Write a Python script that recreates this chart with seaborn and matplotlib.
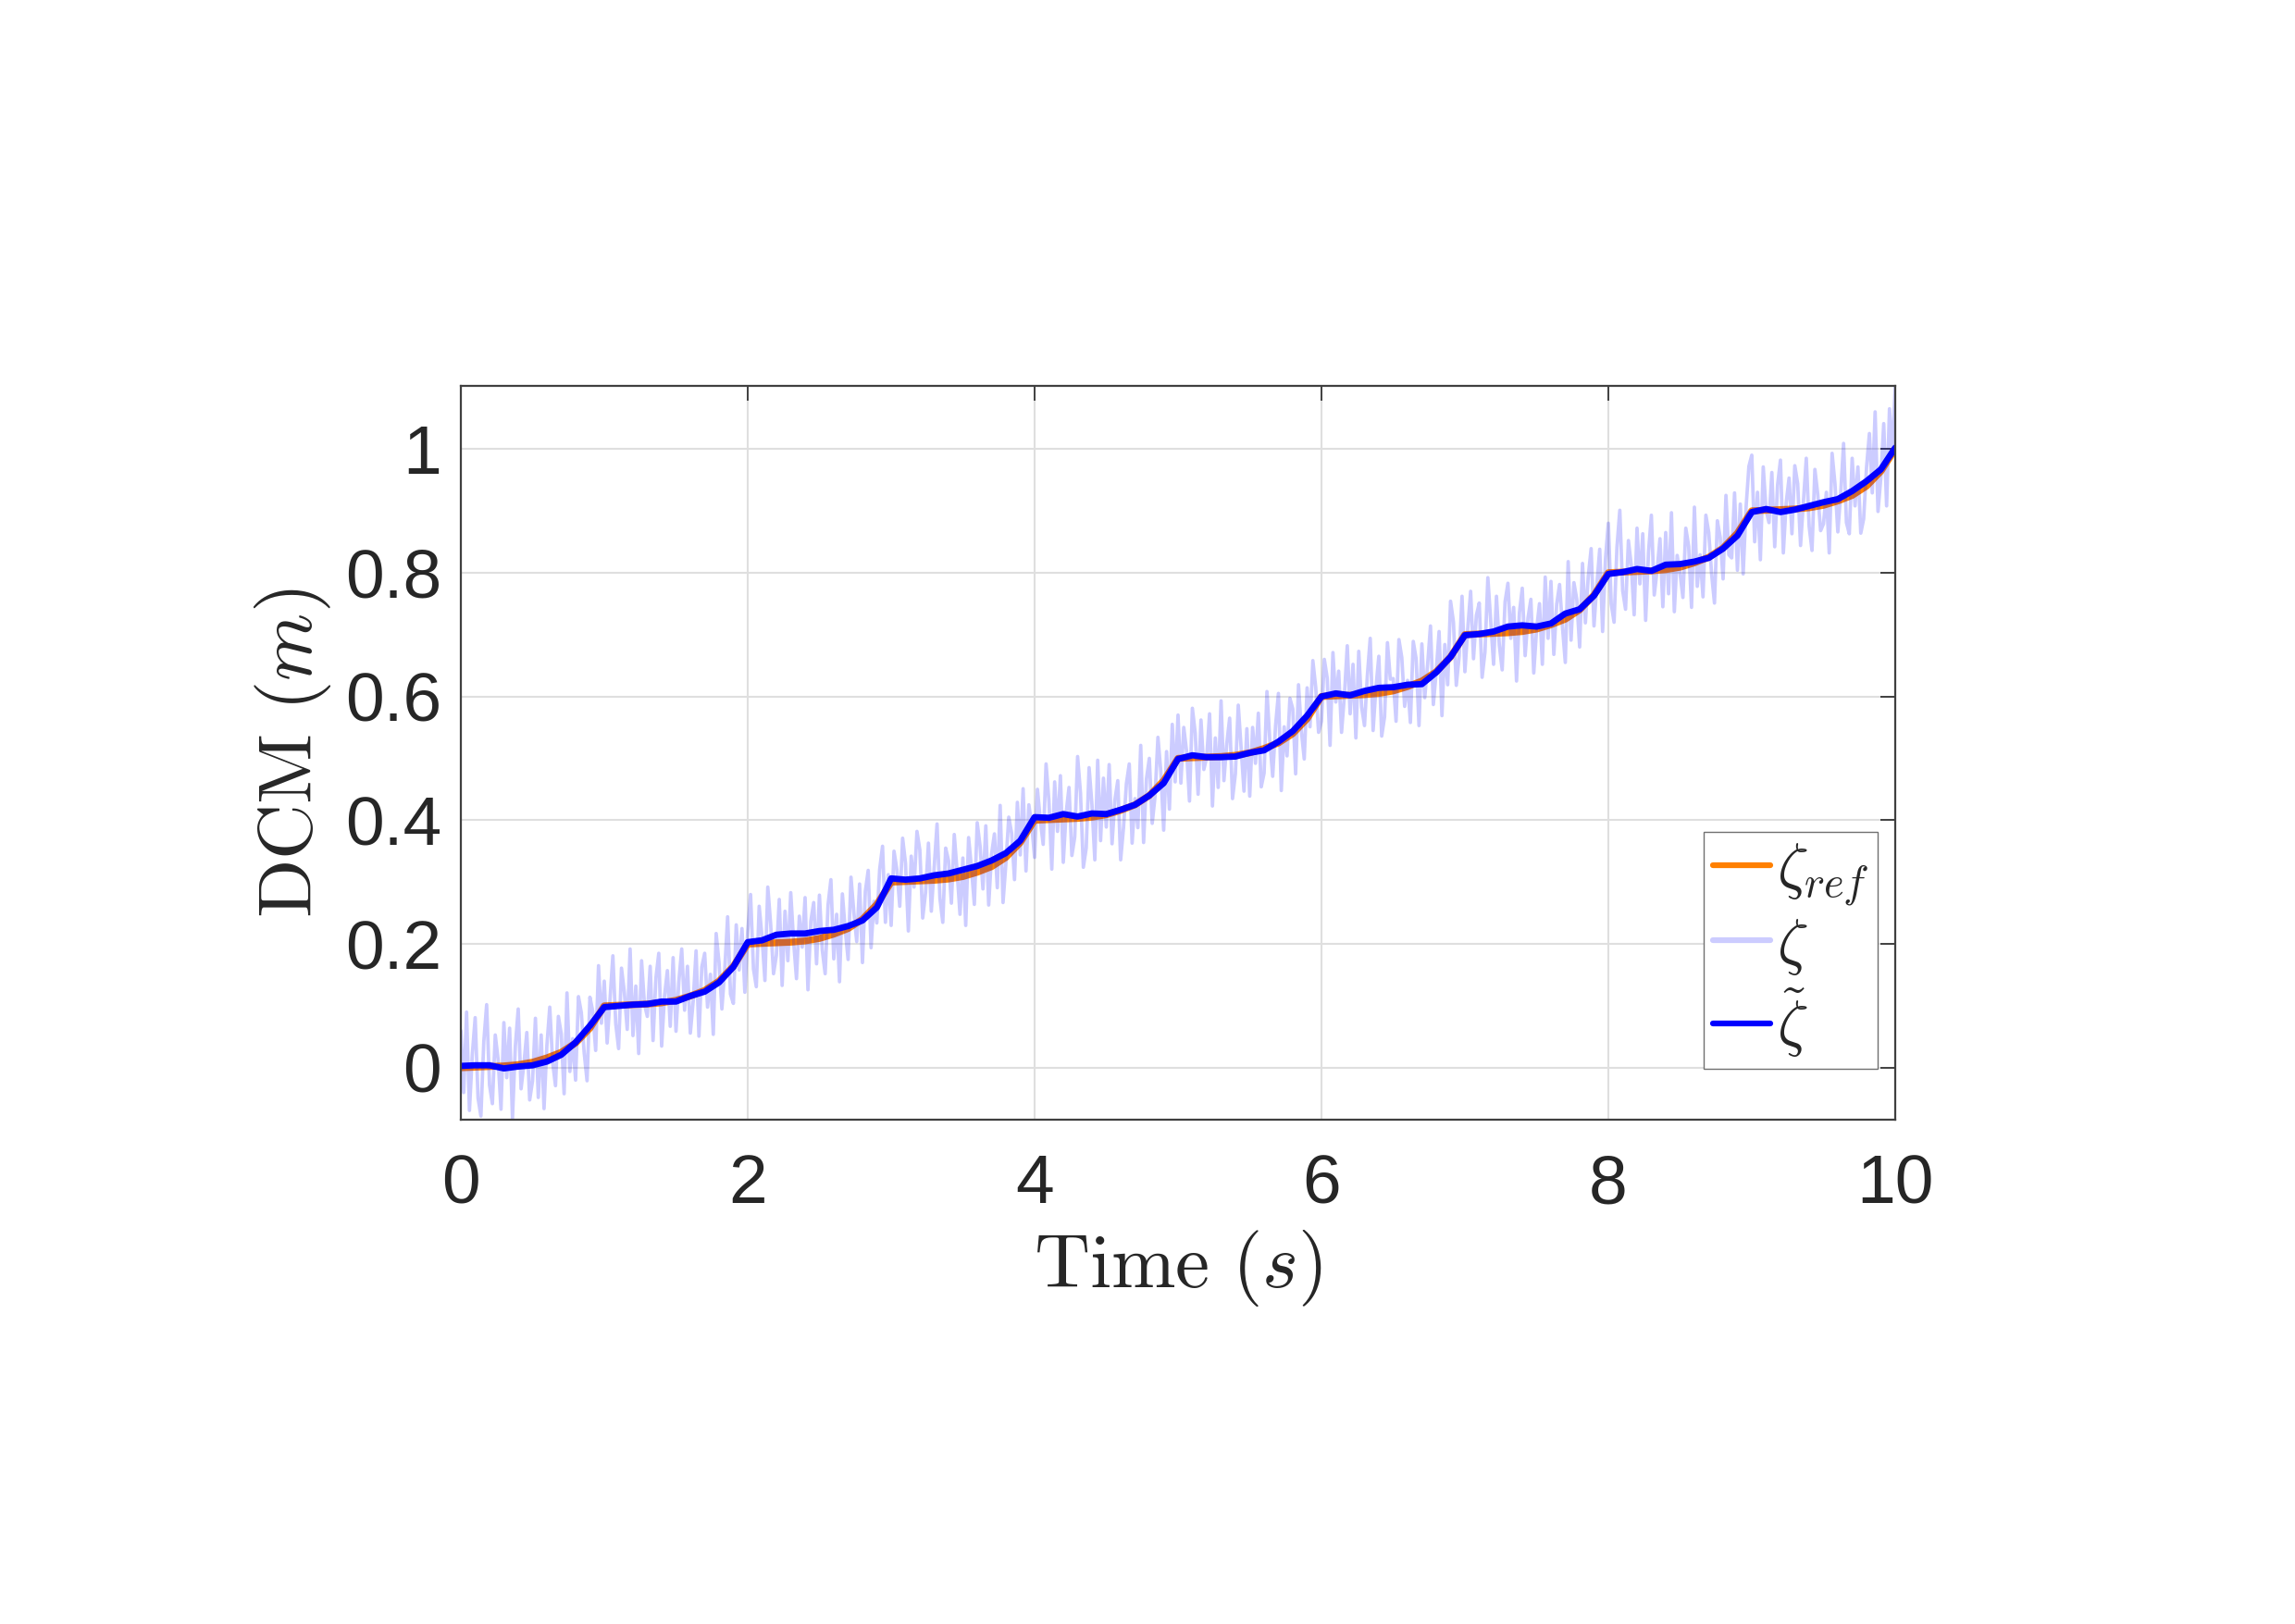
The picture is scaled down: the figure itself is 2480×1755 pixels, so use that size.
import numpy as np
import pandas as pd
import seaborn as sns
import matplotlib.pyplot as plt

# sample times (s)
t_coarse = np.linspace(0, 10, 101)   # reference + estimate, every 0.1 s
t_meas = np.linspace(0, 10, 501)     # noisy DCM measurement, every 0.02 s

# DCM reference (m)
zeta_ref = [
    0.000, 0.001, 0.002, 0.003, 0.005, 0.009, 0.016, 0.025, 0.040, 0.064,
    0.100, 0.101, 0.102, 0.103, 0.105, 0.109, 0.116, 0.125, 0.140, 0.164,
    0.200, 0.201, 0.202, 0.203, 0.205, 0.209, 0.216, 0.225, 0.240, 0.264,
    0.300, 0.301, 0.302, 0.303, 0.305, 0.309, 0.316, 0.325, 0.340, 0.364,
    0.400, 0.401, 0.402, 0.403, 0.405, 0.409, 0.416, 0.425, 0.440, 0.464,
    0.500, 0.501, 0.502, 0.503, 0.505, 0.509, 0.516, 0.525, 0.540, 0.564,
    0.600, 0.601, 0.602, 0.603, 0.605, 0.609, 0.616, 0.625, 0.640, 0.664,
    0.700, 0.701, 0.702, 0.703, 0.705, 0.709, 0.716, 0.725, 0.740, 0.764,
    0.800, 0.801, 0.802, 0.803, 0.805, 0.809, 0.816, 0.825, 0.840, 0.864,
    0.900, 0.901, 0.902, 0.903, 0.905, 0.909, 0.916, 0.925, 0.940, 0.964,
    1.000,
]

# filtered DCM estimate (m)
zeta_est = [
    0.003, 0.004, 0.004, -0.001, 0.002, 0.004, 0.010, 0.021, 0.041, 0.068,
    0.098, 0.100, 0.102, 0.103, 0.107, 0.107, 0.116, 0.123, 0.138, 0.163,
    0.203, 0.206, 0.215, 0.217, 0.217, 0.221, 0.223, 0.229, 0.238, 0.259,
    0.306, 0.304, 0.306, 0.311, 0.314, 0.320, 0.326, 0.335, 0.347, 0.367,
    0.405, 0.404, 0.410, 0.406, 0.411, 0.410, 0.417, 0.425, 0.440, 0.460,
    0.499, 0.505, 0.502, 0.502, 0.503, 0.509, 0.513, 0.527, 0.544, 0.569,
    0.600, 0.605, 0.602, 0.609, 0.614, 0.615, 0.619, 0.620, 0.639, 0.664,
    0.699, 0.701, 0.705, 0.713, 0.715, 0.713, 0.718, 0.734, 0.741, 0.763,
    0.798, 0.801, 0.806, 0.803, 0.813, 0.814, 0.818, 0.824, 0.839, 0.860,
    0.898, 0.903, 0.898, 0.902, 0.908, 0.914, 0.919, 0.932, 0.948, 0.967,
    1.002,
]

# raw (noisy) DCM measurement (m), two rows per 0.5 s
zeta_meas = [
    0.060, -0.040, 0.090, -0.069, 0.021, 0.081, -0.049, -0.078, 0.042, 0.102, -0.028, -0.058, 0.053,
    0.013, -0.067, 0.073, -0.016, 0.064, -0.082, 0.035, 0.095, -0.034, 0.007, 0.057, -0.052,
    -0.021, 0.080, -0.048, 0.053, -0.066, 0.036, 0.098, 0.009, -0.029, 0.083, 0.055, -0.042, 0.121,
    -0.006, 0.047, -0.020, 0.115, 0.089, 0.024, -0.021, 0.114, 0.091, 0.028, 0.165, 0.072,
    0.140, 0.040, 0.110, 0.181, 0.071, 0.031, 0.161, 0.122, 0.062, 0.192, 0.052, 0.132, 0.023,
    0.173, 0.103, 0.083, 0.164, 0.044, 0.145, 0.185, 0.035, 0.116, 0.157, 0.067, 0.178,
    0.059, 0.140, 0.192, 0.093, 0.164, 0.056, 0.108, 0.189, 0.051, 0.163, 0.185, 0.098, 0.151,
    0.054, 0.217, 0.170, 0.095, 0.159, 0.244, 0.119, 0.104, 0.231, 0.158, 0.225, 0.122,
    0.220, 0.280, 0.160, 0.131, 0.261, 0.211, 0.141, 0.292, 0.232, 0.152, 0.182, 0.272, 0.133,
    0.253, 0.173, 0.283, 0.204, 0.144, 0.245, 0.195, 0.275, 0.126, 0.237, 0.267, 0.168,
    0.279, 0.190, 0.152, 0.263, 0.304, 0.176, 0.248, 0.139, 0.281, 0.223, 0.175, 0.308, 0.251,
    0.204, 0.297, 0.170, 0.285, 0.319, 0.194, 0.269, 0.234, 0.321, 0.358, 0.235, 0.312,
    0.230, 0.350, 0.320, 0.261, 0.371, 0.331, 0.221, 0.342, 0.292, 0.382, 0.352, 0.242, 0.283,
    0.363, 0.253, 0.323, 0.394, 0.274, 0.235, 0.355, 0.335, 0.266, 0.377, 0.317, 0.248,
    0.339, 0.230, 0.372, 0.323, 0.264, 0.396, 0.358, 0.289, 0.391, 0.263, 0.345, 0.378, 0.291,
    0.424, 0.267, 0.330, 0.405, 0.379, 0.304, 0.429, 0.344, 0.451, 0.318, 0.425, 0.392,
    0.340, 0.450, 0.400, 0.361, 0.491, 0.431, 0.321, 0.462, 0.382, 0.472, 0.332, 0.412, 0.453,
    0.343, 0.373, 0.503, 0.444, 0.324, 0.355, 0.485, 0.425, 0.336, 0.497, 0.367, 0.468,
    0.389, 0.490, 0.362, 0.433, 0.464, 0.336, 0.388, 0.459, 0.491, 0.363, 0.435, 0.388, 0.521,
    0.364, 0.467, 0.500, 0.395, 0.439, 0.534, 0.479, 0.384, 0.511, 0.418, 0.555, 0.462,
    0.570, 0.460, 0.550, 0.511, 0.431, 0.581, 0.541, 0.442, 0.562, 0.482, 0.502, 0.572, 0.423,
    0.533, 0.453, 0.593, 0.464, 0.524, 0.565, 0.435, 0.475, 0.586, 0.517, 0.447, 0.548,
    0.439, 0.550, 0.492, 0.573, 0.454, 0.476, 0.608, 0.529, 0.471, 0.553, 0.605, 0.448, 0.551,
    0.504, 0.597, 0.580, 0.475, 0.619, 0.544, 0.499, 0.614, 0.551, 0.658, 0.615, 0.542,
    0.560, 0.660, 0.630, 0.521, 0.671, 0.591, 0.641, 0.542, 0.602, 0.682, 0.572, 0.652, 0.533,
    0.673, 0.583, 0.553, 0.634, 0.694, 0.545, 0.615, 0.665, 0.536, 0.567, 0.687, 0.628,
    0.629, 0.560, 0.692, 0.663, 0.584, 0.626, 0.558, 0.689, 0.661, 0.553, 0.685, 0.598, 0.651,
    0.714, 0.587, 0.640, 0.705, 0.569, 0.684, 0.619, 0.754, 0.721, 0.618, 0.665, 0.762,
    0.640, 0.710, 0.770, 0.661, 0.731, 0.751, 0.631, 0.672, 0.792, 0.722, 0.652, 0.762, 0.683,
    0.643, 0.753, 0.783, 0.694, 0.744, 0.625, 0.735, 0.775, 0.666, 0.727, 0.757, 0.638,
    0.709, 0.750, 0.652, 0.793, 0.694, 0.786, 0.668, 0.749, 0.781, 0.713, 0.655, 0.818, 0.691,
    0.784, 0.757, 0.680, 0.815, 0.719, 0.794, 0.839, 0.714, 0.781, 0.838, 0.705, 0.822,
    0.880, 0.750, 0.720, 0.841, 0.901, 0.771, 0.741, 0.852, 0.812, 0.732, 0.872, 0.782, 0.863,
    0.723, 0.833, 0.893, 0.764, 0.804, 0.855, 0.745, 0.865, 0.766, 0.897, 0.737, 0.828,
    0.799, 0.760, 0.872, 0.843, 0.744, 0.906, 0.778, 0.829, 0.761, 0.893, 0.865, 0.798, 0.751,
    0.884, 0.857, 0.790, 0.925, 0.829, 0.824, 0.929, 0.804, 0.911, 0.798, 0.905, 0.972,
    0.990, 0.850, 0.930, 0.821, 0.971, 0.901, 0.881, 0.962, 0.842, 0.942, 0.982, 0.832, 0.913,
    0.953, 0.863, 0.973, 0.944, 0.844, 0.915, 0.985, 0.875, 0.836, 0.967, 0.927, 0.868,
    0.879, 0.930, 0.832, 0.993, 0.944, 0.866, 0.928, 1.009, 0.881, 0.863, 0.985, 0.908, 0.971,
    0.864, 0.887, 0.970, 1.025, 0.929, 1.060, 0.899, 0.954, 1.041, 0.908, 1.065, 0.990,
    1.100,
]

xticks = [0, 2, 4, 6, 8, 10]
yticks = [0, 0.2, 0.4, 0.6, 0.8, 1]

df_ref = pd.DataFrame({"t": t_coarse, "z": zeta_ref})
df_est = pd.DataFrame({"t": t_coarse, "z": zeta_est})
df_meas = pd.DataFrame({"t": t_meas, "z": zeta_meas})

sns.set_theme(style="white")
plt.rcParams["font.family"] = ["Liberation Sans", "DejaVu Sans"]
plt.rcParams["mathtext.fontset"] = "cm"

axcol = "#262626"

fig = plt.figure(figsize=(24.8, 17.55), dpi=100)
fig.patch.set_facecolor("white")
ax = fig.add_axes([0.2008, 0.3105, 0.625, 0.4519])

sns.lineplot(data=df_ref, x="t", y="z", ax=ax, color="#FF8000", lw=5.4,
             estimator=None, sort=False, label=r"$\zeta_{ref}$")
sns.lineplot(data=df_meas, x="t", y="z", ax=ax, color="blue", alpha=0.2, lw=2.7,
             estimator=None, sort=False, label=r"$\zeta$")
sns.lineplot(data=df_est, x="t", y="z", ax=ax, color="blue", lw=4.9,
             estimator=None, sort=False, label=r"$\tilde{\zeta}$")

ax.set_xlim(0, 10)
ax.set_ylim(-0.084, 1.102)
ax.set_xticks(xticks)
ax.set_yticks(yticks)
ax.set_xticklabels([str(v) for v in xticks])
ax.set_yticklabels(["0", "0.2", "0.4", "0.6", "0.8", "1"])

ax.grid(True, color="#DFDFDF", lw=1.5)
ax.set_axisbelow(True)
for s in ax.spines.values():
    s.set_visible(True)
    s.set_color("#404040")
    s.set_linewidth(1.6)

ax.tick_params(axis="both", which="major", direction="in", length=11.5, width=1.4,
               color="#404040", labelsize=54, labelcolor=axcol,
               top=True, right=True)
ax.tick_params(axis="x", pad=26)
ax.tick_params(axis="y", pad=15)

ax.set_xlabel(r"$\mathrm{Time}\ (s)$", fontsize=60, color=axcol)
ax.set_ylabel(r"$\mathrm{DCM}\ (m)$", fontsize=60, color=axcol)
ax.xaxis.set_label_coords(0.5, -0.1475)
ax.yaxis.set_label_coords(-0.089, 0.5)

leg = ax.legend(loc="upper right", bbox_to_anchor=(0.988, 0.392), borderaxespad=0,
                fontsize=48, handlelength=0.93, handletextpad=0.1, borderpad=0.15,
                labelspacing=0.15, frameon=True, fancybox=False, framealpha=1)
leg.get_frame().set_edgecolor("#707070")
leg.get_frame().set_linewidth(1.0)
for h in leg.get_lines():
    h.set_linewidth(4.5)

fig.savefig("out.png", dpi=100, facecolor="white")
